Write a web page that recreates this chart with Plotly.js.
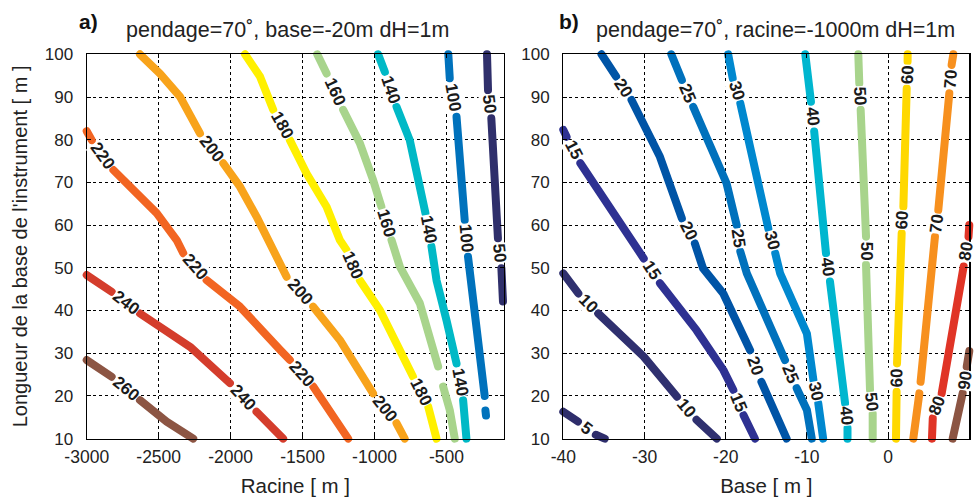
<!DOCTYPE html>
<html>
<head>
<meta charset="utf-8">
<script src="https://cdn.plot.ly/plotly-3.0.1.min.js"></script>
<style>
  html, body { margin: 0; padding: 0; background: #fff; }
  #chart { width: 979px; height: 501px; }
  path.js-line { stroke-linecap: round !important; stroke-linejoin: round !important; }
  .cartesianlayer g, .cartesianlayer path { clip-path: none !important; }
</style>
</head>
<body>
<div id="chart"></div>
<script>
// ---------- data: panel a) x = Racine [m], y = longueur [m] ----------
const levelsA = [260, 240, 220, 200, 180, 160, 140, 100, 50];
const colorsA = ['#8c5543', '#d43d2c', '#f26522', '#f8a31b', '#fff000', '#a8d48c', '#00b9c6', '#0072bc', '#2f2f6b'];

const a260x = [-3000, -2827, null, -2630, -2445, -2260];
const a260y = [28.4, 24.5, null, 19.0, 14.0, 10];
const a240x = [-3000, -2827, null, -2630, -2282, -2005, null, -1820, -1635];
const a240y = [48.3, 44.4, null, 39.3, 31.5, 23.0, null, 16.3, 10];
const a220x = [-3000, -2965, null, -2815, -2514, -2375, -2329, null, -2167, -1935, -1657, -1588, null, -1426, -1183];
const a220y = [82, 79.9, null, 72.9, 62.8, 56.5, 53.4, null, 47.1, 40.9, 30.8, 28.4, null, 22.2, 10];
const a200x = [-2630, -2491, -2352, -2213, null, -2051, -1935, -1820, -1657, -1611, null, -1426, -1241, -1010, null, -847, -790];
const a200y = [100, 95.5, 90.1, 81.5, null, 74.5, 69.0, 62.0, 50.3, 47.9, null, 40.9, 33.1, 20.6, null, 13.6, 10];
const a180x = [-1900, -1796, -1704, null, -1588, -1472, -1333, -1241, -1195, null, -1102, -963, -732, null, -627, -569];
const a180y = [100, 94.8, 87.0, null, 79.9, 72.1, 64.3, 56.5, 54.2, null, 47.1, 40.1, 24.5, null, 17.5, 10];
const a160x = [-1398, -1333, null, -1218, -1102, -1010, -952, null, -882, -824, -685, -558, null, -523, -477, -442];
const a160y = [100, 95.5, null, 87.0, 79.2, 70.6, 64.3, null, 56.5, 50.3, 41.7, 26.9, null, 22.2, 16.7, 10];
const a140x = [-975, -928, null, -847, -755, -646, null, -604, -569, -500, -430, null, -384, -361];
const a140y = [100, 95.9, null, 87.7, 79.9, 62.8, null, 55.0, 47.1, 37.8, 27.6, null, 19.0, 10];
const a100x = [-487, -477, null, -430, -373, null, -350, -234, null, -229, -225];
const a100y = [100, 94.4, null, 85.4, 61.2, null, 52.6, 20.0, null, 16.6, 15.4];
const a50x = [-218, -211, null, -188, -142, null, -118, -107];
const a50y = [100, 91.6, null, 85.0, 56.9, null, 49.9, 42.1];

// ---------- data: panel b) x = Base [m], y = longueur [m] ----------
const levelsB = [5, 10, 15, 20, 25, 30, 40, 50, 60, 70, 80, 90];
const colorsB = ['#2e2d6b', '#2f306f', '#2e3192', '#0054a6', '#0071bc', '#0088cf', '#00b6cf', '#a8d48c', '#ffd800', '#f7901e', '#e03426', '#8c5543'];

const b5x = [-40, -38.2, null, -36.0, -34.9];
const b5y = [16.3, 14.0, null, 10.9, 10];
const b10x = [-40, -38.15, null, -35.7, -30.1, -26.0, null, -23.6, -21.1];
const b10y = [48.7, 44.0, null, 39.3, 29.2, 19.8, null, 14.4, 10];
const b15x = [-40, -39.6, null, -37.9, -30.1, null, -28.1, -23.6, -20.3, -19.06, null, -17.8, -16.4];
const b15y = [82.3, 80.7, null, 74.5, 52.2, null, 46.4, 35.4, 26.1, 21.4, null, 15.5, 10];
const b20x = [-35.3, -33.5, null, -31.6, -30.1, -28.1, -25.4, null, -23.8, -22.8, -20.3, -17.0, null, -15.6, -12.5];
const b20y = [100, 94.8, null, 89.3, 83.8, 76.0, 61.6, null, 55.7, 49.9, 44.0, 30.7, null, 23.3, 10];
const b25x = [-26.7, -25.4, null, -24.0, -20.7, -19.9, -18.65, null, -18.2, -17.4, -12.7, null, -11.26, -10.0, -9.4];
const b25y = [100, 94.0, null, 87.7, 73.7, 69.8, 60.0, null, 53.8, 48.7, 28.4, null, 21.8, 16.7, 10];
const b30x = [-19.7, -19.14, null, -18.2, -14.75, null, -13.9, -13.3, -10.0, -9.2, null, -8.6, -8.0];
const b30y = [100, 94.4, null, 88.5, 59.2, null, 53.4, 48.7, 34.6, 23.7, null, 18.3, 10];
const b40x = [-10.2, -9.5, null, -9.1, -7.65, null, -7.16, -5.3, null, -5.0, -5.0];
const b40y = [100, 88.9, null, 81.9, 53.4, null, 46.8, 18.3, null, 12.5, 10];
const b50x = [-3.67, -3.55, null, -3.38, -2.72, null, -2.72, -2.23, null, -1.9, -1.9];
const b50y = [100, 93.2, null, 87.0, 57.3, null, 50.7, 21.4, null, 15.9, 10];
const b60x = [2.41, 2.4, null, 2.29, 1.88, null, 1.67, 1.1, null, 1.05, 0.97];
const b60y = [100, 98.3, null, 92.0, 64.3, null, 58.1, 27.6, null, 21.0, 10];
const b70x = [8.03, 7.82, null, 7.54, 6.18, null, 5.77, 4.0, null, 3.85, 3.1];
const b70y = [100, 97.5, null, 90.9, 63.5, null, 57.3, 23.3, null, 20.6, 10];
const b80x = [10, 9.9, null, 9.3, 6.6, null, 5.5, 5.4];
const b80y = [60, 57.3, null, 50.3, 20.6, null, 14.75, 10];
const b90x = [10, 9.68, null, 9.18, 7.95];
const b90y = [30.5, 26.85, null, 20.6, 10];

const seriesA = [[a260x, a260y], [a240x, a240y], [a220x, a220y], [a200x, a200y], [a180x, a180y],
                 [a160x, a160y], [a140x, a140y], [a100x, a100y], [a50x, a50y]];
const seriesB = [[b5x, b5y], [b10x, b10y], [b15x, b15y], [b20x, b20y], [b25x, b25y], [b30x, b30y],
                 [b40x, b40y], [b50x, b50y], [b60x, b60y], [b70x, b70y], [b80x, b80y], [b90x, b90y]];
// gaps in a line that carry no label (level -> gap index)
const unlabeledGapsA = {160: [2], 100: [2]};
const unlabeledGapsB = {70: [2]};

// ---------- axes ----------
const xRangeA = [-3000, -100];
const xRangeB = [-40, 10];
const yRange = [10, 100];
const xTicksA = [-3000, -2500, -2000, -1500, -1000, -500];
const xTicksB = [-40, -30, -20, -10, 0, 10];
const yTicks = [10, 20, 30, 40, 50, 60, 70, 80, 90, 100];

const W = 979, H = 501;
const domA = [0.0886, 0.5148];
const domB = [0.5754, 0.9901];
const domY = [0.1245, 0.8916];

const FONT = 'Liberation Sans, Arial, Helvetica, sans-serif';

const traces = [];
const annotations = [];

function addPanel(series, levels, colors, xref, yref, xRange, dom, skip) {
  const kx = (dom[1] - dom[0]) * W / (xRange[1] - xRange[0]);
  const ky = (domY[1] - domY[0]) * H / (yRange[1] - yRange[0]);
  series.forEach((s, i) => {
    const xs = s[0], ys = s[1];
    traces.push({
      type: 'scatter', mode: 'lines', x: xs, y: ys,
      xaxis: xref, yaxis: yref, connectgaps: false, cliponaxis: false,
      line: {color: colors[i], width: 8, shape: 'linear'},
      hoverinfo: 'skip', showlegend: false
    });
    let g = 0;
    for (let k = 1; k < xs.length - 1; k++) {
      if (xs[k] === null) {
        const skipList = skip[levels[i]] || [];
        if (skipList.indexOf(g) < 0) {
          const x1 = xs[k - 1], y1 = ys[k - 1], x2 = xs[k + 1], y2 = ys[k + 1];
          let ang = Math.atan2(-(y2 - y1) * ky, (x2 - x1) * kx) * 180 / Math.PI;
          if (ang > 90) ang -= 180;
          if (ang <= -90) ang += 180;
          annotations.push({
            x: (x1 + x2) / 2, y: (y1 + y2) / 2, xref: xref, yref: yref,
            text: '<b>' + levels[i] + '</b>', showarrow: false, textangle: ang,
            font: {family: FONT, size: 17, color: '#1a1a1a'},
            bgcolor: 'rgba(255,255,255,1)', borderpad: 0
          });
        }
        g++;
      }
    }
  });
}
addPanel(seriesA, levelsA, colorsA, 'x', 'y', xRangeA, domA, unlabeledGapsA);
addPanel(seriesB, levelsB, colorsB, 'x2', 'y2', xRangeB, domB, unlabeledGapsB);

// panel titles
annotations.push(
  {xref: 'paper', yref: 'paper', x: 88 / W, y: 1 - 21 / H, xanchor: 'center', yanchor: 'middle', showarrow: false,
   text: '<b>a)</b>', font: {family: FONT, size: 21, color: '#111'}},
  {xref: 'paper', yref: 'paper', x: 287 / W, y: 1 - 30 / H, xanchor: 'center', yanchor: 'middle', showarrow: false,
   text: 'pendage=70˚, base=-20m dH=1m', font: {family: FONT, size: 21.5, color: '#222'}},
  {xref: 'paper', yref: 'paper', x: 569 / W, y: 1 - 21 / H, xanchor: 'center', yanchor: 'middle', showarrow: false,
   text: '<b>b)</b>', font: {family: FONT, size: 21, color: '#111'}},
  {xref: 'paper', yref: 'paper', x: 775 / W, y: 1 - 30 / H, xanchor: 'center', yanchor: 'middle', showarrow: false,
   text: 'pendage=70˚, racine=-1000m dH=1m', font: {family: FONT, size: 21.5, color: '#222'}}
);

function xAxis(range, ticks, dom, title, anchor) {
  return {
    domain: dom, range: range, anchor: anchor, tickmode: 'array', tickvals: ticks,
    ticktext: ticks.map(String), showgrid: true, gridcolor: '#000', griddash: 'dot', gridwidth: 1,
    zeroline: false, showline: true, linecolor: '#000', linewidth: 1.2, mirror: 'ticks',
    ticks: 'inside', ticklen: 4, tickcolor: '#000', ticklabelstandoff: 2,
    tickfont: {family: FONT, size: 17.5, color: '#222'},
    title: {text: title, font: {family: FONT, size: 20.5, color: '#222'}, standoff: 12}
  };
}
function yAxis(dom, title, anchor) {
  return {
    domain: dom, range: yRange, anchor: anchor, tickmode: 'array', tickvals: yTicks,
    ticktext: yTicks.map(String), showgrid: true, gridcolor: '#000', griddash: 'dot', gridwidth: 1,
    zeroline: false, showline: true, linecolor: '#000', linewidth: 1.2, mirror: 'ticks',
    ticks: 'inside', ticklen: 4, tickcolor: '#000', ticklabelstandoff: 9,
    tickfont: {family: FONT, size: 17, color: '#222'},
    title: title ? {text: title, font: {family: FONT, size: 20, color: '#222'}, standoff: 11} : {text: ''}
  };
}

const layout = {
  width: W, height: H,
  margin: {l: 0, r: 0, t: 0, b: 0},
  paper_bgcolor: '#fff', plot_bgcolor: '#fff',
  showlegend: false,
  xaxis: xAxis(xRangeA, xTicksA, domA, 'Racine [ m ]', 'y'),
  yaxis: yAxis(domY, "Longueur de la base de l'instrument [ m ]", 'x'),
  xaxis2: xAxis(xRangeB, xTicksB, domB, 'Base [ m ]', 'y2'),
  yaxis2: yAxis(domY, '', 'x2'),
  annotations: annotations
};

Plotly.newPlot('chart', traces, layout, {staticPlot: true, displayModeBar: false});
</script>
</body>
</html>
